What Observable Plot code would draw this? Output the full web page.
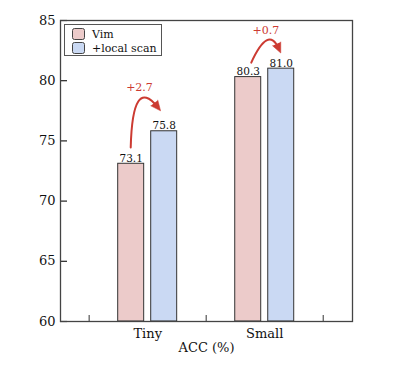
<!DOCTYPE html>
<html>
<head>
<meta charset="utf-8">
<script src="https://cdn.jsdelivr.net/npm/d3@7"></script>
<script src="https://cdn.jsdelivr.net/npm/@observablehq/plot@0.6"></script>
<style>
  body { margin: 0; background: #fff; }
  #wrap { position: relative; width: 399px; height: 369px; font-family: "DejaVu Serif", serif; }
  #legend { position: absolute; left: 64px; top: 24px; width: 96px; height: 30px; border: 1.5px solid #555; background: #fff; font-size: 11px; color: #111; }
  .row { position: absolute; left: 7px; height: 12px; display: flex; align-items: center; }
  .sw { width: 11px; height: 10px; border: 1px solid #444; border-radius: 2.5px; margin-right: 7px; }
</style>
</head>
<body>
<div id="wrap"></div>
<script>
const categories = ["Tiny", "Small"];
const methods = ["Vim", "+local scan"];
const vimValues = [73.1, 80.3];
const localValues = [75.8, 81.0];
const gains = ["+2.7", "+0.7"];
const yTicks = [60, 65, 70, 75, 80, 85];
const xMinorTicks = [-0.5, 0.5, 1.5];
const colors = ["#eccbca", "#cad9f3"];
const red = "#cc3b32";

const W = 399, H = 369, mL = 60, mR = 47, mT = 20, mB = 48;
const xDomain = [-0.745, 1.75];
const yDomain = [60, 85];
const kx = (W - mL - mR) / (xDomain[1] - xDomain[0]);
const ky = (H - mT - mB) / (yDomain[1] - yDomain[0]);
// annotation arrow geometry (offsets from group centre / bar values)
const arrowStyle = {
  Tiny:  {sx: -0.145, sdy: 1.35, cx: -0.13, cdy: 4.6, ex: 0.11,  edy: 1.7, lx: -0.07, ldy: 3.6},
  Small: {sx: -0.115, sdy: 1.2,  cx: 0.03,  cdy: 3.6, ex: 0.137, edy: 1.3, lx: 0.01,  ldy: 3.2}
};

const bars = categories.flatMap((c, i) => [
  {cat: c, method: methods[0], value: vimValues[i], x1: i - 0.252, x2: i - 0.03},
  {cat: c, method: methods[1], value: localValues[i], x1: i + 0.03, x2: i + 0.252}
]);

const arrowPts = [];
const heads = [];
categories.forEach((c, i) => {
  const s = arrowStyle[c];
  const p0 = {x: i + s.sx, y: vimValues[i] + s.sdy};
  const pc = {x: i + s.cx, y: localValues[i] + s.cdy};
  const p2 = {x: i + s.ex, y: localValues[i] + s.edy};
  const dxp = (p2.x - pc.x) * kx, dyp = -(p2.y - pc.y) * ky;
  const len = Math.hypot(dxp, dyp);
  const back = 5;
  const pe = {x: p2.x - (dxp / len) * back / kx, y: p2.y + (dyp / len) * back / ky};
  [p0, pc, pe].forEach((p, k) => arrowPts.push({cat: c, k, x: p.x, y: p.y}));
  heads.push({cat: c, x: p2.x, y: p2.y, rot: Math.atan2(dyp, dxp) * 180 / Math.PI + 90,
    label: gains[i], lx: i + s.lx, ly: localValues[i] + s.ldy});
});

function quadCurve(context) {
  let pts;
  return {
    areaStart() {}, areaEnd() {},
    lineStart() { pts = []; },
    lineEnd() {
      if (pts.length >= 3) {
        context.moveTo(pts[0][0], pts[0][1]);
        context.quadraticCurveTo(pts[1][0], pts[1][1], pts[2][0], pts[2][1]);
      }
    },
    point(x, y) { pts.push([+x, +y]); }
  };
}

const chart = Plot.plot({
  width: W,
  height: H,
  marginLeft: mL,
  marginRight: mR,
  marginTop: mT,
  marginBottom: mB,
  style: {fontFamily: "DejaVu Serif, serif", background: "#fff", color: "#111"},
  x: {domain: xDomain, axis: null},
  y: {domain: yDomain, axis: null},
  color: {domain: methods, range: colors},
  marks: [
    Plot.rectY(bars, {x1: "x1", x2: "x2", y1: 60, y2: "value", fill: "method", stroke: "#333", strokeWidth: 1}),
    Plot.text(bars, {x: d => (d.x1 + d.x2) / 2, y: "value", text: d => d.value.toFixed(1), lineAnchor: "bottom", dy: -2, fontSize: 10.5, fill: "#111"}),
    Plot.line(arrowPts, {x: "x", y: "y", z: "cat", curve: quadCurve, stroke: red, strokeWidth: 2, fill: "none"}),
    Plot.vector(heads, {x: "x", y: "y", rotate: "rot", length: 10, shape: "spike", r: 4.5, anchor: "end", fill: red, stroke: red, strokeWidth: 0.5}),
    Plot.text(heads, {x: "lx", y: "ly", text: "label", fill: red, fontSize: 11}),
    Plot.ruleY(yTicks, {x1: xDomain[0], x2: xDomain[0] + 0.06, stroke: "#222", strokeWidth: 1.2}),
    Plot.ruleX(xMinorTicks, {y1: 60, y2: 60.5, stroke: "#555", strokeWidth: 1.2}),
    Plot.axisY({ticks: yTicks, tickSize: 0, tickPadding: 5, fontSize: 13, label: null}),
    Plot.axisX({ticks: [0, 1], tickSize: 0, tickPadding: 7, fontSize: 13, tickFormat: i => categories[i], label: null}),
    Plot.text(["ACC (%)"], {frameAnchor: "bottom", dy: 30, fontSize: 13, fill: "#111"}),
    Plot.frame({stroke: "#444", strokeWidth: 1.3})
  ]
});
const wrap = document.getElementById("wrap");
wrap.appendChild(chart);
const legend = document.createElement("div");
legend.id = "legend";
methods.forEach((m, i) => {
  const row = document.createElement("div");
  row.className = "row";
  row.style.top = (3 + i * 14) + "px";
  const sw = document.createElement("div");
  sw.className = "sw";
  sw.style.background = colors[i];
  const t = document.createElement("span");
  t.textContent = m;
  row.appendChild(sw);
  row.appendChild(t);
  legend.appendChild(row);
});
wrap.appendChild(legend);
</script>
</body>
</html>
